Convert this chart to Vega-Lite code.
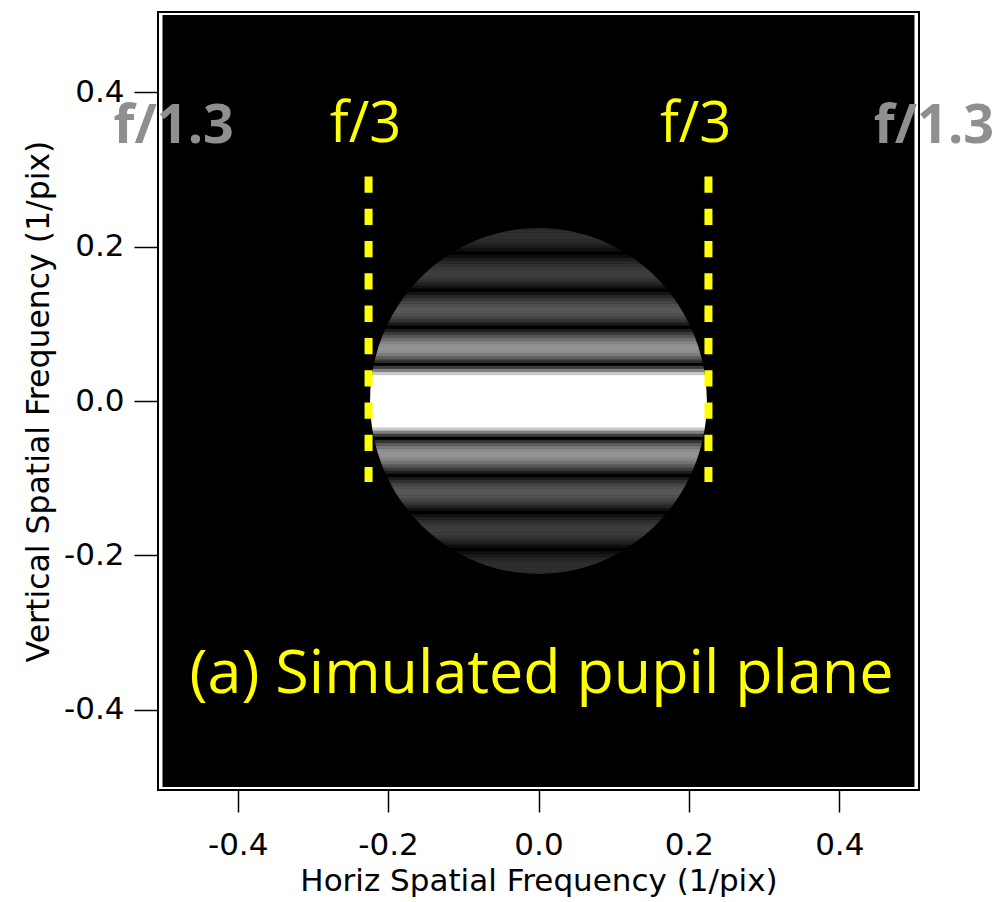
{
  "$schema": "https://vega.github.io/schema/vega-lite/v6.json",
  "width": 761,
  "height": 778,
  "autosize": {"type": "none"},
  "padding": {"left": 158, "top": 12, "right": 84, "bottom": 112},
  "background": "white",
  "config": {
    "view": {"stroke": "black", "strokeWidth": 2},
    "axis": {
      "labelFont": "DejaVu Sans",
      "titleFont": "DejaVu Sans",
      "labelColor": "black",
      "titleColor": "black",
      "titleFontWeight": "normal",
      "tickColor": "black",
      "labelOverlap": false,
      "labelFlush": false
    }
  },
  "layer": [
    {
      "data": {"values": [{"x0": -0.5, "x1": 0.5, "y0": -0.5, "y1": 0.5}]},
      "mark": {"type": "rect", "fill": "black", "strokeWidth": 0},
      "encoding": {
        "x": {
          "field": "x0", "type": "quantitative",
          "scale": {"domain": [-0.506, 0.506], "nice": false, "zero": false},
          "axis": {
            "title": "Horiz Spatial Frequency (1/pix)",
            "values": [-0.4, -0.2, 0, 0.2, 0.4],
            "labelExpr": "datum.value < 0 ? '-' + format(-datum.value, '.1f') : format(datum.value, '.1f')",
            "domain": false, "grid": false,
            "tickSize": 22, "tickWidth": 1.5,
            "labelFontSize": 31, "labelPadding": 18,
            "titleFontSize": 31, "titlePadding": 6
          }
        },
        "x2": {"field": "x1"},
        "y": {
          "field": "y0", "type": "quantitative",
          "scale": {"domain": [-0.504, 0.504], "nice": false, "zero": false},
          "axis": {
            "title": "Vertical Spatial Frequency (1/pix)",
            "values": [-0.4, -0.2, 0, 0.2, 0.4],
            "labelExpr": "datum.value < 0 ? '-' + format(-datum.value, '.1f') : format(datum.value, '.1f')",
            "domain": false, "grid": false,
            "tickSize": 24, "tickWidth": 1.5,
            "labelFontSize": 31, "labelPadding": 10,
            "titleFontSize": 31.5, "titlePadding": 8
          }
        },
        "y2": {"field": "y1"}
      }
    },
    {
      "data": {"values": [
        {"lo": -0.230, "hi": -0.226, "v": 0.127},
        {"lo": -0.226, "hi": -0.222, "v": 0.158},
        {"lo": -0.222, "hi": -0.218, "v": 0.179},
        {"lo": -0.218, "hi": -0.214, "v": 0.189},
        {"lo": -0.214, "hi": -0.210, "v": 0.186},
        {"lo": -0.210, "hi": -0.206, "v": 0.170},
        {"lo": -0.206, "hi": -0.202, "v": 0.141},
        {"lo": -0.202, "hi": -0.198, "v": 0.102},
        {"lo": -0.198, "hi": -0.194, "v": 0.054},
        {"lo": -0.194, "hi": -0.190, "v": 0.0},
        {"lo": -0.190, "hi": -0.186, "v": 0.056},
        {"lo": -0.186, "hi": -0.182, "v": 0.111},
        {"lo": -0.182, "hi": -0.178, "v": 0.160},
        {"lo": -0.178, "hi": -0.174, "v": 0.201},
        {"lo": -0.174, "hi": -0.170, "v": 0.229},
        {"lo": -0.170, "hi": -0.166, "v": 0.243},
        {"lo": -0.166, "hi": -0.162, "v": 0.240},
        {"lo": -0.162, "hi": -0.158, "v": 0.221},
        {"lo": -0.158, "hi": -0.154, "v": 0.185},
        {"lo": -0.154, "hi": -0.150, "v": 0.134},
        {"lo": -0.150, "hi": -0.146, "v": 0.071},
        {"lo": -0.146, "hi": -0.142, "v": 0.0},
        {"lo": -0.142, "hi": -0.138, "v": 0.075},
        {"lo": -0.138, "hi": -0.134, "v": 0.150},
        {"lo": -0.134, "hi": -0.130, "v": 0.219},
        {"lo": -0.130, "hi": -0.126, "v": 0.276},
        {"lo": -0.126, "hi": -0.122, "v": 0.318},
        {"lo": -0.122, "hi": -0.118, "v": 0.340},
        {"lo": -0.118, "hi": -0.114, "v": 0.340},
        {"lo": -0.114, "hi": -0.110, "v": 0.315},
        {"lo": -0.110, "hi": -0.106, "v": 0.267},
        {"lo": -0.106, "hi": -0.102, "v": 0.196},
        {"lo": -0.102, "hi": -0.098, "v": 0.106},
        {"lo": -0.098, "hi": -0.094, "v": 0.0},
        {"lo": -0.094, "hi": -0.090, "v": 0.115},
        {"lo": -0.090, "hi": -0.086, "v": 0.232},
        {"lo": -0.086, "hi": -0.082, "v": 0.343},
        {"lo": -0.082, "hi": -0.078, "v": 0.442},
        {"lo": -0.078, "hi": -0.074, "v": 0.519},
        {"lo": -0.074, "hi": -0.070, "v": 0.567},
        {"lo": -0.070, "hi": -0.066, "v": 0.580},
        {"lo": -0.066, "hi": -0.062, "v": 0.552},
        {"lo": -0.062, "hi": -0.058, "v": 0.481},
        {"lo": -0.058, "hi": -0.054, "v": 0.364},
        {"lo": -0.054, "hi": -0.050, "v": 0.203},
        {"lo": -0.050, "hi": -0.046, "v": 0.0},
        {"lo": -0.046, "hi": -0.042, "v": 0.240},
        {"lo": -0.042, "hi": -0.038, "v": 0.510},
        {"lo": -0.038, "hi": -0.034, "v": 0.801},
        {"lo": -0.034, "hi": 0.034, "v": 1.0},
        {"lo": 0.034, "hi": 0.038, "v": 0.801},
        {"lo": 0.038, "hi": 0.042, "v": 0.510},
        {"lo": 0.042, "hi": 0.046, "v": 0.240},
        {"lo": 0.046, "hi": 0.050, "v": 0.0},
        {"lo": 0.050, "hi": 0.054, "v": 0.203},
        {"lo": 0.054, "hi": 0.058, "v": 0.364},
        {"lo": 0.058, "hi": 0.062, "v": 0.481},
        {"lo": 0.062, "hi": 0.066, "v": 0.552},
        {"lo": 0.066, "hi": 0.070, "v": 0.580},
        {"lo": 0.070, "hi": 0.074, "v": 0.567},
        {"lo": 0.074, "hi": 0.078, "v": 0.519},
        {"lo": 0.078, "hi": 0.082, "v": 0.442},
        {"lo": 0.082, "hi": 0.086, "v": 0.343},
        {"lo": 0.086, "hi": 0.090, "v": 0.232},
        {"lo": 0.090, "hi": 0.094, "v": 0.115},
        {"lo": 0.094, "hi": 0.098, "v": 0.0},
        {"lo": 0.098, "hi": 0.102, "v": 0.106},
        {"lo": 0.102, "hi": 0.106, "v": 0.196},
        {"lo": 0.106, "hi": 0.110, "v": 0.267},
        {"lo": 0.110, "hi": 0.114, "v": 0.315},
        {"lo": 0.114, "hi": 0.118, "v": 0.340},
        {"lo": 0.118, "hi": 0.122, "v": 0.340},
        {"lo": 0.122, "hi": 0.126, "v": 0.318},
        {"lo": 0.126, "hi": 0.130, "v": 0.276},
        {"lo": 0.130, "hi": 0.134, "v": 0.219},
        {"lo": 0.134, "hi": 0.138, "v": 0.150},
        {"lo": 0.138, "hi": 0.142, "v": 0.075},
        {"lo": 0.142, "hi": 0.146, "v": 0.0},
        {"lo": 0.146, "hi": 0.150, "v": 0.071},
        {"lo": 0.150, "hi": 0.154, "v": 0.134},
        {"lo": 0.154, "hi": 0.158, "v": 0.185},
        {"lo": 0.158, "hi": 0.162, "v": 0.221},
        {"lo": 0.162, "hi": 0.166, "v": 0.240},
        {"lo": 0.166, "hi": 0.170, "v": 0.243},
        {"lo": 0.170, "hi": 0.174, "v": 0.229},
        {"lo": 0.174, "hi": 0.178, "v": 0.201},
        {"lo": 0.178, "hi": 0.182, "v": 0.160},
        {"lo": 0.182, "hi": 0.186, "v": 0.111},
        {"lo": 0.186, "hi": 0.190, "v": 0.056},
        {"lo": 0.190, "hi": 0.194, "v": 0.0},
        {"lo": 0.194, "hi": 0.198, "v": 0.054},
        {"lo": 0.198, "hi": 0.202, "v": 0.102},
        {"lo": 0.202, "hi": 0.206, "v": 0.141},
        {"lo": 0.206, "hi": 0.210, "v": 0.170},
        {"lo": 0.210, "hi": 0.214, "v": 0.186},
        {"lo": 0.214, "hi": 0.218, "v": 0.189},
        {"lo": 0.218, "hi": 0.222, "v": 0.179},
        {"lo": 0.222, "hi": 0.226, "v": 0.158},
        {"lo": 0.226, "hi": 0.230, "v": 0.127}
      ]},
      "mark": {"type": "rect", "strokeWidth": 0.6},
      "encoding": {
        "x": {"datum": -0.232, "type": "quantitative"},
        "x2": {"datum": 0.232},
        "y": {"field": "lo", "type": "quantitative"},
        "y2": {"field": "hi"},
        "color": {
          "field": "v", "type": "quantitative",
          "scale": {"domain": [0, 1], "range": ["#000000", "#ffffff"], "interpolate": "rgb"},
          "legend": null
        },
        "stroke": {
          "field": "v", "type": "quantitative",
          "scale": {"domain": [0, 1], "range": ["#000000", "#ffffff"], "interpolate": "rgb"},
          "legend": null
        }
      }
    },
    {
      "data": {"values": [{"cx": 0, "cy": 0}]},
      "mark": {
        "type": "point",
        "shape": "M-0.6,-0.6H0.6V0.6H-0.6Z M0.421,0A0.421,0.4323 0 1 0 -0.421,0A0.421,0.4323 0 1 0 0.421,0Z",
        "filled": true,
        "color": "black",
        "opacity": 1,
        "strokeWidth": 0,
        "size": 640000
      },
      "encoding": {
        "x": {"field": "cx", "type": "quantitative"},
        "y": {"field": "cy", "type": "quantitative"}
      }
    },
    {
      "data": {"values": [
        {"fx": -0.226, "top": 0.291, "bot": -0.105},
        {"fx": 0.226, "top": 0.291, "bot": -0.105}
      ]},
      "mark": {"type": "rule", "color": "#ffff00", "strokeWidth": 8, "strokeDash": [16.3, 16], "strokeCap": "butt"},
      "encoding": {
        "x": {"field": "fx", "type": "quantitative"},
        "y": {"field": "top", "type": "quantitative"},
        "y2": {"field": "bot"}
      }
    },
    {
      "data": {"values": [
        {"lx": -0.23, "ly": 0.336, "t": "f/3"},
        {"lx": 0.209, "ly": 0.336, "t": "f/3"}
      ]},
      "mark": {"type": "text", "font": "Open Sans", "fontSize": 56, "color": "#ffff00", "align": "center", "baseline": "alphabetic"},
      "encoding": {
        "x": {"field": "lx", "type": "quantitative"},
        "y": {"field": "ly", "type": "quantitative"},
        "text": {"field": "t"}
      }
    },
    {
      "data": {"values": [
        {"lx": -0.485, "ly": 0.334, "t": "f/1.3"},
        {"lx": 0.526, "ly": 0.334, "t": "f/1.3"}
      ]},
      "mark": {"type": "text", "font": "Open Sans", "fontWeight": "bold", "fontSize": 54, "color": "#8f8f8f", "align": "center", "baseline": "alphabetic"},
      "encoding": {
        "x": {"field": "lx", "type": "quantitative"},
        "y": {"field": "ly", "type": "quantitative"},
        "text": {"field": "t"}
      }
    },
    {
      "data": {"values": [
        {"lx": 0.004, "ly": -0.378, "t": "(a) Simulated pupil plane"}
      ]},
      "mark": {"type": "text", "font": "Open Sans", "fontSize": 61, "color": "#ffff00", "align": "center", "baseline": "alphabetic"},
      "encoding": {
        "x": {"field": "lx", "type": "quantitative"},
        "y": {"field": "ly", "type": "quantitative"},
        "text": {"field": "t"}
      }
    }
  ]
}
